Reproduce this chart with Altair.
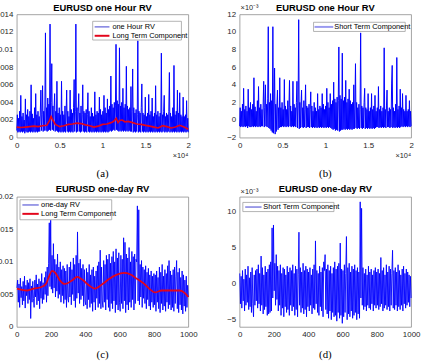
import altair as alt
import numpy as np
import pandas as pd

# ---------------------------------------------------------------------------
# EURUSD realized volatility: hourly (20 000 obs) and daily (1 000 obs)
# Series values are stored in units of 1e-4.
# ---------------------------------------------------------------------------

hour_rv = [
    8, 26, 6, 22, 7, 30, 6, 48, 7, 24, 6, 28, 7, 20, 5, 44, 7, 26, 6, 32,
    6, 24, 7, 30, 6, 60, 7, 27, 6, 22, 7, 34, 6, 50, 7, 26, 6, 30, 7, 24,
    7, 28, 54, 8, 26, 59, 7, 30, 8, 36, 119, 8, 34, 7, 45, 8, 38, 9, 129, 8,
    40, 84, 9, 36, 8, 32, 50, 7, 30, 8, 64, 7, 28, 6, 34, 7, 26, 6, 64, 7,
    30, 6, 26, 7, 36, 6, 28, 54, 7, 30, 6, 24, 7, 54, 6, 32, 7, 28, 6, 34,
    66, 7, 30, 129, 6, 34, 7, 30, 50, 7, 28, 6, 36, 7, 26, 60, 7, 30, 6, 28,
    7, 32, 6, 26, 51, 7, 30, 6, 24, 7, 34, 6, 28, 7, 24, 6, 52, 7, 26, 6,
    30, 7, 28, 6, 46, 7, 32, 6, 26, 7, 30, 6, 48, 7, 34, 6, 28, 7, 44, 6,
    32, 7, 36, 8, 70, 7, 38, 8, 34, 9, 40, 8, 36, 106, 9, 42, 8, 38, 7, 102,
    8, 36, 7, 40, 8, 56, 7, 34, 8, 38, 7, 81, 8, 36, 7, 32, 8, 34, 7, 58,
    7, 30, 78, 6, 34, 7, 28, 6, 32, 7, 26, 110, 6, 30, 7, 28, 6, 34, 61, 7,
    28, 6, 26, 7, 46, 6, 24, 7, 28, 6, 49, 7, 26, 6, 30, 7, 45, 6, 24, 7,
    28, 6, 59, 7, 26, 6, 30, 7, 24, 6, 28, 7, 96, 6, 26, 7, 30, 48, 6, 24,
    7, 28, 6, 26, 7, 30, 74, 6, 28, 7, 24, 6, 34, 7, 82, 6, 26, 7, 30, 6,
    54, 7, 28, 6, 51, 7, 26, 6, 24, 7, 46, 6, 24, 7, 26, 6, 42, 7, 22, 6,
]

hour_short = [
    -7, 14, -8, 10, -7, 18, -8, 36, -7, 12, -8, 16, -7, 10, -9, 35, -7, 14, -8, 20,
    -8, 12, -7, 18, -8, 48, -7, 15, -8, 10, -7, 22, -8, 38, -7, 14, -8, 18, -7, 12,
    -7, 16, 44, -8, 14, 40, -7, 18, -8, 24, 106, -9, 20, -10, 30, -12, 22, -14, 106, -15,
    22, 59, -16, 18, -13, 16, 34, -11, 14, -9, 48, -8, 14, -8, 20, -7, 12, -8, 46, -7,
    16, -8, 12, -7, 22, -8, 14, 45, -7, 16, -8, 10, -7, 44, -8, 18, -7, 14, -8, 20,
    44, -9, 16, 114, -10, 20, -9, 16, 34, -8, 14, -9, 22, -8, 12, 40, -9, 16, -8, 14,
    -8, 18, -9, 12, 32, -8, 16, -9, 10, -8, 20, -9, 14, -8, 10, -9, 30, -8, 12, -9,
    16, -8, 14, -9, 30, -8, 18, -9, 12, -8, 16, -9, 36, -8, 20, -9, 14, -8, 30, -9,
    18, -10, 22, -11, 43, -10, 24, -12, 20, -11, 26, -12, 22, 83, -13, 28, -12, 24, -11, 76,
    -11, 22, -10, 26, -11, 45, -10, 20, -11, 24, -10, 35, -11, 22, -10, 18, -11, 20, -10, 40,
    -10, 16, 64, -9, 20, -10, 14, -9, 18, -10, 12, 99, -9, 16, -10, 14, -9, 20, 36, -10,
    14, -9, 12, -10, 30, -9, 10, -10, 14, -9, 30, -10, 12, -9, 16, -10, 28, -9, 10, -8,
    14, -8, 38, -9, 12, -8, 16, -9, 10, -8, 14, -9, 82, -8, 12, -9, 16, 34, -8, 10,
    -8, 14, -9, 12, -8, 42, 62, -9, 14, -8, 10, -9, 18, -8, 71, -9, 12, -8, 16, -9,
    35, -8, 14, -7, 30, -8, 12, -7, 10, -8, 28, -7, 10, -8, 12, -7, 22, -8, 10, -7,
]

# long-term component of the hourly series (position in 1e4 hours)
hour_lt_pos = [0, 0.05, 0.1, 0.15, 0.2, 0.25, 0.3, 0.35, 0.38, 0.40, 0.42, 0.45,
               0.5, 0.55, 0.6, 0.65, 0.7, 0.75, 0.8, 0.85, 0.9, 0.95, 1.0, 1.05,
               1.1, 1.13, 1.16, 1.18, 1.2, 1.23, 1.26, 1.3, 1.35, 1.4, 1.45, 1.5,
               1.55, 1.6, 1.65, 1.7, 1.75, 1.8, 1.85, 1.9, 1.95, 2.0]
hour_lt = [12, 11.5, 12, 12.5, 13, 12.5, 13.5, 14, 19, 24, 20, 15,
           12.5, 13.5, 15, 15.5, 16.5, 16, 14.5, 13.5, 12, 13, 15, 15.5,
           17, 18.5, 22, 17, 19.5, 20, 18, 18.5, 17, 15.5, 15, 14,
           13, 12, 11, 13.5, 12.5, 11, 12, 14, 12, 9.5]

day_rv = [
    60, 72, 38, 66, 30, 75, 45, 62, 34, 70, 40, 78, 29, 64, 48, 72, 36, 68, 42, 74, 13, 63, 38, 70, 44,
    30, 72, 46, 80, 34, 66, 40, 74, 28, 70, 44, 82, 36, 68, 42, 76, 50, 85, 38, 92, 48, 98, 160, 62, 164,
    58, 110, 52, 128, 60, 104, 46, 96, 55, 112, 44, 92, 50, 100, 38, 88, 48, 94, 36, 90, 42, 86, 30, 96, 44,
    38, 92, 46, 100, 34, 88, 50, 106, 40, 96, 30, 110, 44, 146, 52, 98, 36, 104, 42, 90, 48, 96, 32, 88, 40,
    34, 90, 28, 84, 42, 96, 30, 80, 36, 88, 24, 92, 38, 78, 26, 86, 44, 94, 30, 100, 36, 118, 28, 92, 40,
    30, 102, 38, 96, 26, 110, 42, 104, 30, 112, 24, 98, 36, 108, 28, 116, 40, 100, 22, 120, 34, 106, 26, 114, 38,
    24, 110, 36, 104, 28, 137, 40, 130, 22, 112, 34, 106, 26, 122, 38, 100, 30, 116, 42, 108, 26, 112, 36, 104, 100,
    186, 40, 180, 34, 96, 46, 102, 30, 92, 44, 88, 36, 94, 28, 84, 42, 90, 32, 80, 26, 86, 38, 78, 30, 82,
    34, 80, 24, 86, 38, 76, 28, 92, 22, 84, 36, 96, 26, 78, 32, 88, 24, 82, 38, 94, 28, 102, 34, 86, 26,
    80, 30, 88, 24, 92, 36, 78, 102, 28, 84, 22, 90, 34, 76, 26, 86, 20, 80, 32, 72, 24, 78, 30, 64, 46,
]

day_short = [
    14, -28, 10, -34, 18, -24, 6, -38, 20, -30, 12, -26, 24, -36, 8, -32, 16, -40, 22, -28, -46, 12, -30, 18, -24,
    20, -34, 26, -28, 14, -38, 38, -30, 22, -42, 12, -36, 24, -32, 16, -44, 20, -42, 26, -40, 30, -38, 77, -20, 81,
    -10, 28, -30, 40, -22, 24, -38, 18, -30, 26, -44, 14, -34, 22, -46, 20, -32, 12, -40, 24, -36, 16, -44, 22, -30,
    18, -38, 26, -32, 14, -44, 24, -36, 20, -46, 12, 71, -30, 22, -40, 16, -34, 28, -42, 18, -36, 24, -46, 20, -32,
    16, -38, 22, -30, 12, -42, 20, -34, 26, -36, 59, -28, 18, -40, 14, -44, 24, -32, 16, -38, 22, -46, 30, 18, 40,
    -36, 20, -42, 26, -48, 18, -38, 24, -50, 14, -40, 22, -46, 30, -44, 20, -52, 24, -40, 28, -48, 56, -44, 20, -55,
    18, -46, 26, -40, 14, 65, -50, 22, -42, 28, -46, 16, -38, 24, -48, 20, -44, 26, -40, 18, -50, 22, -42, 16, -48,
    113, -20, 104, -30, 22, -36, 14, -32, 20, -38, 12, -30, 24, -34, 16, -36, 20, -28, 12, -38, 18, -30, 22, -34, 16,
    -30, 20, -36, 14, -32, 36, -28, 18, -38, 22, -34, 12, -30, 26, -36, 16, -32, 24, -38, 20, -30, 14, 46, -34, 18,
    -36, 22, -30, 16, -38, 26, -32, 18, -36, 12, -30, 20, -38, 24, -28, 14, -34, 20, -30, 16, -26, 12, -32, 10, -20,
]

# long-term component of the daily series
day_lt_pos = [1, 30, 60, 100, 140, 170, 190, 205, 225, 250, 280, 320, 352, 385, 420,
              455, 500, 540, 580, 625, 660, 700, 740, 780, 805, 845, 900, 950, 980, 1000]
day_lt = [59, 57, 56, 59, 61, 66, 79, 86, 83, 72, 66, 71, 77, 72, 64,
          59, 66, 74, 80, 83, 81, 74, 67, 57, 53, 56, 56, 56, 52, 46]

UNIT = 1e-4
FONT = "Liberation Sans"
SERIF = "Liberation Serif"
BLUE = "#0000ff"
RED = "#e3051b"
INK = "#262626"

hour_df = pd.DataFrame({
    "t": np.linspace(1, 20000, len(hour_rv)),
    "v": np.array(hour_rv) * UNIT,
})
hour_s_df = pd.DataFrame({
    "t": np.linspace(1, 20000, len(hour_short)),
    "v": np.array(hour_short) * UNIT,
})
hour_lt_df = pd.DataFrame({"t": np.array(hour_lt_pos) * 1e4, "v": np.array(hour_lt) * UNIT})
day_df = pd.DataFrame({"t": np.linspace(1, 1000, len(day_rv)), "v": np.array(day_rv) * UNIT})
day_s_df = pd.DataFrame({"t": np.linspace(1, 1000, len(day_short)), "v": np.array(day_short) * UNIT})
day_lt_df = pd.DataFrame({"t": day_lt_pos, "v": np.array(day_lt) * UNIT})

ONE = pd.DataFrame({"k": [0]})


def axis(values, expr):
    return alt.Axis(values=values, labelExpr=expr, grid=False, ticks=False, domain=False,
                    labelFont=FONT, labelFontSize=8, labelColor=INK, labelPadding=4,
                    labelFlush=False, labelOverlap=False, title=None)


def text(label, x, y, size=7.5, font=FONT, align="left", color="#000", weight="normal"):
    return alt.Chart(ONE).mark_text(text=label, font=font, fontSize=size, align=align,
                                    baseline="middle", color=color, fontWeight=weight).encode(
        x=alt.value(x), y=alt.value(y))


def box(x1, x2, y1, y2):
    return alt.Chart(ONE).mark_rect(fill="white", stroke="#a0a0a0", strokeWidth=0.8).encode(
        x=alt.value(x1), x2=alt.value(x2), y=alt.value(y1), y2=alt.value(y2))


def swatch(x1, x2, y, color, width, opacity=1.0):
    return alt.Chart(ONE).mark_rule(color=color, strokeWidth=width, opacity=opacity).encode(
        x=alt.value(x1), x2=alt.value(x2), y=alt.value(y))


def heading(label, y):
    return text(label, W / 2, y, size=9.5, align="center", weight="bold")


W = 174
H1, H2 = 125, 132
HOUR_LW = 1.0
DAY_LW = 0.9

hour_x = alt.X("t:Q", scale=alt.Scale(domain=[0, 20000], nice=False),
               axis=axis([0, 5000, 10000, 15000, 20000], "format(datum.value/10000, '~g')"))
day_x = alt.X("t:Q", scale=alt.Scale(domain=[0, 1000], nice=False),
              axis=axis([0, 200, 400, 600, 800, 1000], "format(datum.value, 'd')"))

# (a) hourly RV with its long-term component
ya = alt.Y("v:Q", scale=alt.Scale(domain=[0, 0.014], nice=False),
           axis=axis([0, 0.002, 0.004, 0.006, 0.008, 0.01, 0.012, 0.014],
                     "format(datum.value, '.3~f')"))
pa = alt.layer(
    alt.Chart(hour_df).mark_line(color=BLUE, strokeWidth=HOUR_LW).encode(x=hour_x, y=ya),
    alt.Chart(hour_lt_df).mark_line(color=RED, strokeWidth=1.7).encode(x=hour_x, y=ya),
    box(77, 167, 7, 26),
    swatch(79, 94, 12.7, "#3c3cd0", 1),
    text("one Hour RV", 97, 12.7),
    swatch(79, 94, 21.7, RED, 2),
    text("Long Term Component", 97, 21.7),
    heading("EURUSD one Hour RV", -6),
    text("\u00d710\u2074", W, 144, size=7.5, align="right", color=INK),
    text("(a)", W / 2, 162, size=11, font=SERIF, align="center"),
).properties(width=W, height=H1)

# (b) hourly short-term component
yb = alt.Y("v:Q", scale=alt.Scale(domain=[-0.002, 0.012], nice=False),
           axis=axis([-0.002, 0, 0.002, 0.004, 0.006, 0.008, 0.01, 0.012],
                     "format(datum.value*1000, '.0f')"))
pb = alt.layer(
    alt.Chart(hour_s_df).mark_line(color=BLUE, strokeWidth=HOUR_LW).encode(x=hour_x, y=yb),
    box(75, 168, 8, 17.3),
    swatch(76, 95, 12.7, "#9a9af0", 2),
    text("Short Term Component", 96, 12.7),
    heading("EURUSD one Hour RV", -6),
    text("\u00d710\u207b\u00b3", 1, -6, size=7.5, color=INK),
    text("\u00d710\u2074", W, 144, size=7.5, align="right", color=INK),
    text("(b)", W / 2, 162, size=11, font=SERIF, align="center"),
).properties(width=W, height=H1)

# (c) daily RV with its long-term component
yc = alt.Y("v:Q", scale=alt.Scale(domain=[0, 0.02], nice=False),
           axis=axis([0, 0.005, 0.01, 0.015, 0.02], "format(datum.value, '.3~f')"))
pc = alt.layer(
    alt.Chart(day_df).mark_line(color=BLUE, strokeWidth=DAY_LW).encode(x=day_x, y=yc),
    alt.Chart(day_lt_df).mark_line(color=RED, strokeWidth=1.8, interpolate="monotone").encode(
        x=day_x, y=yc),
    box(3.3, 96.3, 3, 23.3),
    swatch(5.7, 22.3, 8.3, "#3c3cd0", 1),
    text("one-day RV", 24.7, 8.3),
    swatch(5.7, 22.3, 17.3, RED, 2),
    text("Long Term Component", 24.7, 17.3),
    heading("EURUSD one-day RV", -7.7),
    text("(c)", W / 2, 161, size=11, font=SERIF, align="center"),
).properties(width=W, height=H2)

# (d) daily short-term component
yd = alt.Y("v:Q", scale=alt.Scale(domain=[-0.006, 0.012], nice=False),
           axis=axis([-0.005, 0, 0.005, 0.01], "format(datum.value*1000, '.0f')"))
pd_ = alt.layer(
    alt.Chart(day_s_df).mark_line(color=BLUE, strokeWidth=DAY_LW).encode(x=day_x, y=yd),
    box(3.3, 95.7, 5.7, 15),
    swatch(5.7, 22.3, 10.4, "#3c3cd0", 1),
    text("Short Term Component", 24, 10.4),
    heading("EURUSD one-day RV", -7.7),
    text("\u00d710\u207b\u00b3", 1, -5.3, size=7.5, color=INK),
    text("(d)", W / 2, 161, size=11, font=SERIF, align="center"),
).properties(width=W, height=H2)

chart = alt.concat(
    pa, pb, pc, pd_,
    columns=2,
    spacing={"row": 60, "column": 52},
    bounds="flush",
).properties(
    padding={"left": -8, "top": 0, "right": 0, "bottom": 0},
    background="white",
).configure_view(stroke="#8c8c8c", strokeWidth=0.8)

chart.save("out.html", embed_options={"renderer": "svg", "actions": False})
